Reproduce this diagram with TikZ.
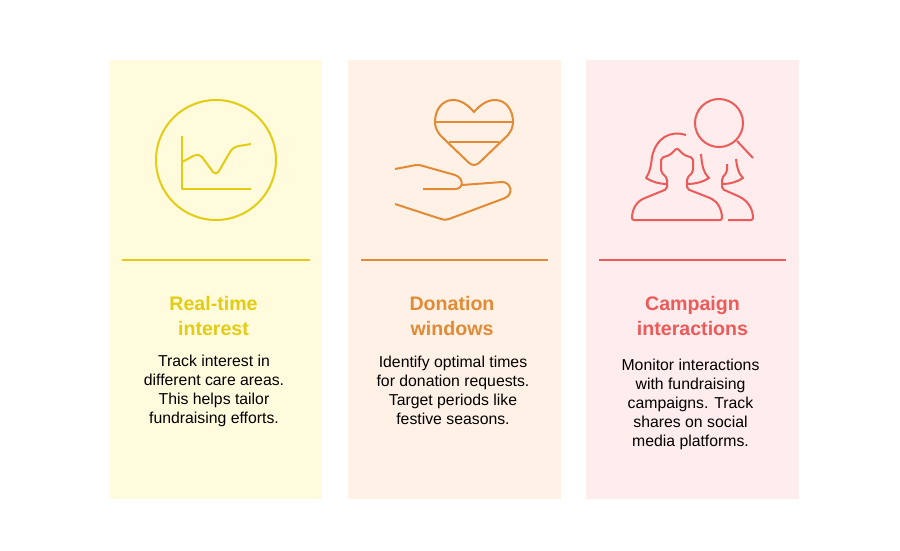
\documentclass[tikz,border=0pt]{standalone}
\usepackage{fontspec}
\setmainfont{Liberation Sans}
\definecolor{yellowline}{HTML}{E3CC12}
\definecolor{yellowback}{HTML}{FFFBDC}
\definecolor{orangeline}{HTML}{E38A35}
\definecolor{orangeback}{HTML}{FFF1E5}
\definecolor{redline}{HTML}{EC5A5A}
\definecolor{redback}{HTML}{FFECEC}
\tikzset{
    heading/.style={align=center,font=\bfseries\fontsize{19.6}{25}\selectfont},
    bodytext/.style={align=center,text=black,font=\fontsize{15.8}{19}\selectfont},
    icon/.style={line width=2pt,rounded corners=3pt,line join=round},
    rule/.style={line width=2pt}
}
\begin{document}
\begin{tikzpicture}[x=1pt,y=-1pt]
    \useasboundingbox (0,0) rectangle (900,550);
    \fill[white] (0,0) rectangle (900,550);

    % panels
    \fill[yellowback] (109,60) rectangle (322,499);
    \fill[orangeback] (348,60) rectangle (561,499);
    \fill[redback] (586,60) rectangle (799,499);

    \draw[rule,yellowline] (122,260) -- (310,260);
    \draw[rule,orangeline] (361,260) -- (548,260);
    \draw[rule,redline] (599,260) -- (786,260);

    % chart icon
    \draw[icon,yellowline] (216,160) circle (60);
    \draw[icon,yellowline,rounded corners=0pt] (182,136) -- (182,189) -- (251,189);
    \draw[icon,yellowline,rounded corners=5pt] (182,162) -- (199,153) -- (216,176) -- (233,147) -- (251,144);

    % heart and hand icon
    \draw[icon,orangeline,rounded corners=0pt] (474,112)
        .. controls (468,105) and (461,100) .. (453,100)
        .. controls (442,100) and (435,110) .. (435,122)
        .. controls (435,127) and (437,131) .. (440,135)
        -- (468,162) .. controls (472,166) and (476,166) .. (480,162)
        -- (508,135) .. controls (511,131) and (513,127) .. (513,122)
        .. controls (513,110) and (506,100) .. (495,100)
        .. controls (487,100) and (480,105) .. (474,112) -- cycle;
    \draw[icon,orangeline] (435,122) -- (513,122);
    \draw[icon,orangeline] (449,142) -- (499,142);
    \draw[icon,orangeline,rounded corners=0pt] (395,169) -- (416,165) .. controls (419,165) and (421,165) .. (423,166)
        -- (455,175) .. controls (464,178) and (464,189) .. (455,189) -- (423,189);
    \draw[icon,orangeline,rounded corners=0pt] (462,185) -- (502,182)
        .. controls (511,182) and (514,194) .. (505,198)
        -- (449,219) .. controls (446,220) and (444,220) .. (441,219) -- (395,204);

    % people icon
    \draw[icon,redline] (719,123) circle (24);
    \draw[icon,redline] (737,141) -- (753,158);
    \draw[icon,redline,rounded corners=0pt] (686,135)
        .. controls (670,130) and (656,138) .. (652,157)
        .. controls (651,166) and (650,172) .. (646,178)
        .. controls (652,182) and (660,184) .. (667,184);
    \draw[icon,redline,rounded corners=2pt] (677,148) -- (670,155) -- (661,158) -- (661,172) -- (667,178) -- (667,189)
        -- (645,198) .. controls (636,202) and (632,210) .. (632,220) -- (722,220)
        .. controls (722,210) and (718,202) .. (710,198) -- (687,189) -- (687,178) -- (693,172) -- (693,158) -- (684,155) -- cycle;
    \draw[icon,redline,rounded corners=0pt] (701,154) .. controls (702,165) and (703,172) .. (709,178)
        .. controls (703,182) and (695,184) .. (687,184);
    \draw[icon,redline,rounded corners=0pt] (736,159) .. controls (737,167) and (738,173) .. (743,178)
        .. controls (737,182) and (730,184) .. (722,184);
    \draw[icon,redline,rounded corners=2pt] (727,164) -- (727,172) -- (722,178) -- (722,189) -- (738,196)
        .. controls (748,201) and (753,209) .. (753,220) -- (728,220);

    % texts
    \node[heading,yellowline] (realtime) at (213.5,316) {Real-time\\interest};
    \node[bodytext] (realtimetext) at (214,390.5) {Track interest in\\different care areas.\\This helps tailor\\fundraising efforts.};
    \node[heading,orangeline] (donation) at (452,316) {Donation\\windows};
    \node[bodytext] (donationtext) at (453,390.5) {Identify optimal times\\for donation requests.\\Target periods like\\festive seasons.};
    \node[heading,redline] (campaign) at (692.5,316) {Campaign\\interactions};
    \node[bodytext] (campaigntext) at (690.5,404) {Monitor interactions\\with fundraising\\campaigns. Track\\shares on social\\media platforms.};
\end{tikzpicture}
\end{document}
